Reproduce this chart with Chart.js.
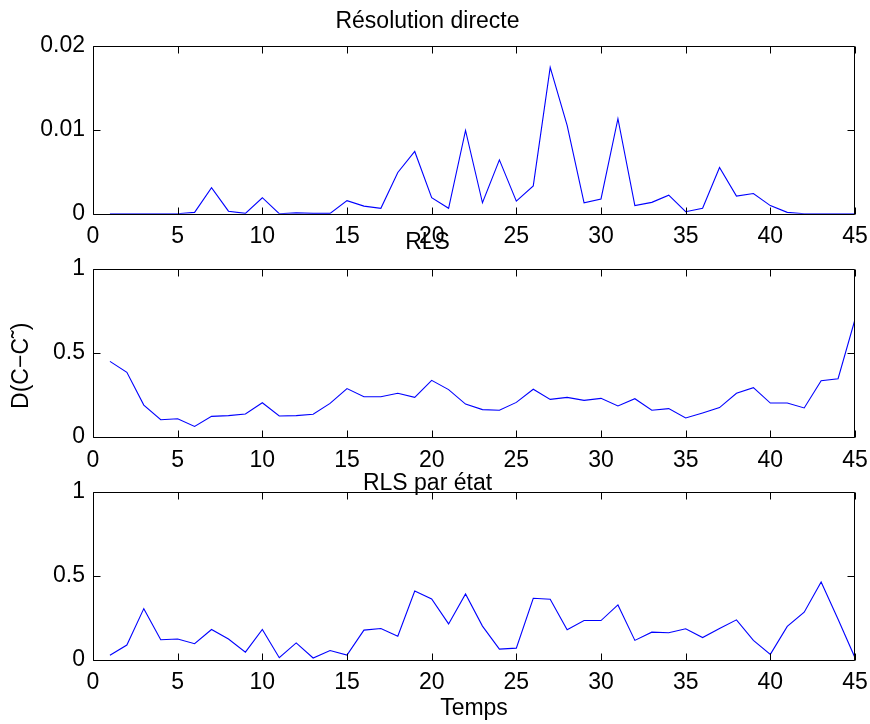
<!DOCTYPE html>
<html><head><meta charset="utf-8">
<script src="https://cdn.jsdelivr.net/npm/chart.js@4"></script>
<style>
html,body{margin:0;padding:0;background:#fff;}
#wrap{position:relative;width:870px;height:724px;overflow:hidden;background:#fff;}
.pane{position:absolute;left:0;width:870px;}
canvas{display:block;}
</style></head><body>
<div id="wrap">
<div class="pane" id="p1" style="top:0px;height:260px"><canvas id="c1" width="870" height="260"></canvas></div>
<div class="pane" id="p2" style="top:224px;height:260px"><canvas id="c2" width="870" height="260"></canvas></div>
<div class="pane" id="p3" style="top:460px;height:264px"><canvas id="c3" width="870" height="264"></canvas></div>
</div>
<script>
// ---- data ----
const temps = [1,2,3,4,5,6,7,8,9,10,11,12,13,14,15,16,17,18,19,20,21,22,23,24,25,26,27,28,29,30,31,32,33,34,35,36,37,38,39,40,41,42,43,44,45];
const resolutionDirecte = [0,0,0,0,0,0.00016,0.0031,0.0003,0.00004,0.0019,0,0.0001,0.00004,0.00004,0.00155,0.0009,0.00064,0.0049,0.0074,0.0019,0.00064,0.0099,0.0013,0.0064,0.0015,0.0033,0.0174,0.0105,0.0013,0.00175,0.0113,0.00096,0.00135,0.0022,0.00024,0.00064,0.0055,0.0021,0.0024,0.00096,0.00016,0,0,0,0];
const rls = [0.45,0.385,0.19,0.103,0.109,0.063,0.123,0.127,0.137,0.204,0.125,0.127,0.135,0.2,0.288,0.24,0.24,0.26,0.236,0.337,0.282,0.196,0.163,0.159,0.206,0.284,0.224,0.236,0.218,0.23,0.185,0.228,0.159,0.169,0.113,0.143,0.175,0.26,0.294,0.202,0.202,0.173,0.335,0.347,0.70];
const rlsParEtat = [0.026,0.087,0.304,0.119,0.123,0.095,0.18,0.123,0.045,0.18,0.012,0.1,0.01,0.055,0.028,0.176,0.186,0.14,0.409,0.362,0.213,0.391,0.2,0.063,0.069,0.366,0.36,0.178,0.233,0.233,0.326,0.115,0.164,0.16,0.184,0.132,0.186,0.237,0.115,0.032,0.198,0.283,0.462,0.241,0.012];
const titles = ['Résolution directe','RLS','RLS par état'];
const yLabel = 'D(C\u2212C\u02DC)    ';
const xLabel = 'Temps';
const xTicks = {min:0, max:45, step:5};
const yTicksTop = {min:0, max:0.02, step:0.01};
const yTicksOther = {min:0, max:1, step:0.5};

// ---- style ----
const FONT = {family:"'Liberation Sans', Arial, Helvetica, sans-serif", size:23};
const BLACK = '#000';
const LINE = '#0000ff';

const fmt = v => String(+(+v).toFixed(4));

const boxTicks = {
  id:'boxTicks',
  afterDraw(chart){
    const {ctx, chartArea:a, scales} = chart;
    const x = scales.x, y = scales.y;
    ctx.save();
    ctx.strokeStyle = BLACK; ctx.lineWidth = 1;
    const L = Math.round(a.left)+0.5, R = Math.round(a.right)-0.5, T = Math.round(a.top)+0.5, B = Math.round(a.bottom)+0.5;
    ctx.beginPath();
    ctx.rect(L, T, R-L, B-T);
    const len = 7;
    x.ticks.forEach(t => {
      const px = Math.round(x.getPixelForValue(t.value))+0.5;
      ctx.moveTo(px, B); ctx.lineTo(px, B-len);
      ctx.moveTo(px, T); ctx.lineTo(px, T+len);
    });
    y.ticks.forEach(t => {
      const py = Math.round(y.getPixelForValue(t.value))+0.5;
      ctx.moveTo(L, py); ctx.lineTo(L+len, py);
      ctx.moveTo(R, py); ctx.lineTo(R-len, py);
    });
    ctx.stroke();
    ctx.restore();
  }
};

function makeChart(id, values, title, yT, layout){
  const pts = temps.map((t,i) => ({x:t, y:values[i]}));
  const half = FONT.size*0.8/2;
  const pt = layout.titleCenter + 2.5 - layout.paneTop - half;
  const pb = (layout.plotTop - layout.paneTop) - 2*half - pt;
  const xAxisH = layout.paneTop + layout.paneH - layout.plotBottom;
  return new Chart(document.getElementById(id), {
    type:'line',
    data:{datasets:[{data:pts, borderColor:LINE, borderWidth:1.1, pointRadius:0, tension:0, fill:false}]},
    options:{
      responsive:false, animation:false, devicePixelRatio:1,
      layout:{padding:{left:0, right:15, top:0, bottom:0}},
      plugins:{
        legend:{display:false}, tooltip:{enabled:false},
        title:{display:true, text:title, color:BLACK, font:{...FONT, weight:'normal', lineHeight:0.8}, padding:{top:pt, bottom:pb}}
      },
      scales:{
        x:{type:'linear', min:xTicks.min, max:xTicks.max,
           grid:{display:false, drawTicks:false}, border:{display:false},
           ticks:{stepSize:xTicks.step, color:BLACK, font:FONT, padding:9.5, maxRotation:0, autoSkip:false, callback:fmt},
           title:{display:!!layout.xTitle, text:xLabel, color:BLACK, font:FONT, padding:{top:0,bottom:2}},
           afterFit(s){ s.height = xAxisH; s.paddingLeft = 0; s.paddingRight = 0; }},
        y:{type:'linear', min:yT.min, max:yT.max,
           grid:{display:false, drawTicks:false}, border:{display:false},
           ticks:{stepSize:yT.step, color:BLACK, font:FONT, padding:8, callback:fmt},
           title:{display:!!layout.yTitle, text:yLabel, color:BLACK, font:FONT, padding:{top:8,bottom:0}},
           afterFit(s){ s.width = 93; s.paddingTop = 0; s.paddingBottom = 0; }}
      }
    },
    plugins:[boxTicks]
  });
}

makeChart('c1', resolutionDirecte, titles[0], yTicksTop, {paneTop:0, paneH:260, plotTop:45.5, plotBottom:213.7, titleCenter:19});
makeChart('c2', rls, titles[1], yTicksOther, {paneTop:224, paneH:260, plotTop:269, plotBottom:437, titleCenter:240, yTitle:true});
makeChart('c3', rlsParEtat, titles[2], yTicksOther, {paneTop:460, paneH:264, plotTop:491.7, plotBottom:659.7, titleCenter:481, xTitle:true});
</script>
</body></html>
